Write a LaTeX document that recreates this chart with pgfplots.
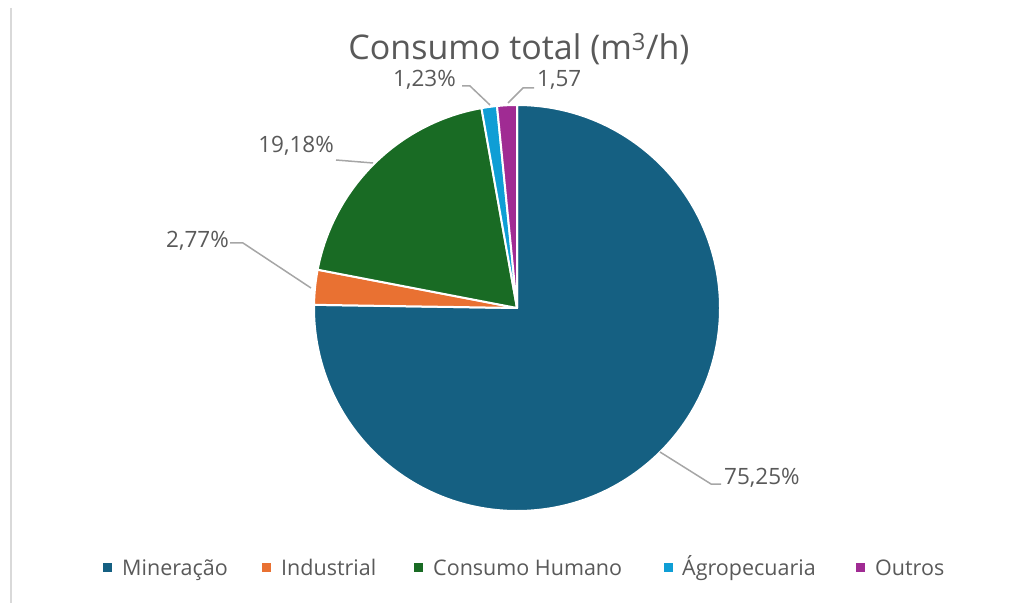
\documentclass[border=0pt]{standalone}
\usepackage{pgfplots}
\pgfplotsset{compat=1.18}
\usepackage{pgfplotstable}
\usepackage{fontspec}
\setmainfont{Open Sans}
\definecolor{cMin}{HTML}{156082}
\definecolor{cInd}{HTML}{E97132}
\definecolor{cHum}{HTML}{196B24}
\definecolor{cAgr}{HTML}{0F9ED5}
\definecolor{cOut}{HTML}{A02B93}
\definecolor{txt}{HTML}{595959}
\definecolor{lead}{HTML}{A6A6A6}
\definecolor{frame}{HTML}{D9D9D9}

\pgfplotstableread{
value color
75.25 cMin
2.77 cInd
19.18 cHum
1.23 cAgr
1.57 cOut
}\piedata

\begin{document}
\begin{tikzpicture}
\begin{axis}[width=1015bp,height=603bp,scale only axis,hide axis,
  xmin=0,xmax=1015,ymin=0,ymax=603,clip=false]
\path (axis cs:0,0) rectangle (axis cs:1015,603);
\pgfplotsextra{
  \xdef\cum{90}
  \pgfplotstableforeachcolumnelement{value}\of\piedata\as\v{%
    \pgfplotstablegetelem{\pgfplotstablerow}{color}\of\piedata
    \let\col\pgfplotsretval
    \pgfmathsetmacro\endang{\cum-3.6*\v}
    \fill[\col, draw=white, line width=2bp, line join=round] (axis cs:517,295) -- ++(\cum:203bp)
      arc[start angle=\cum, end angle=\endang, radius=203bp] -- cycle;
    \xdef\cum{\endang}%
  }
}
% frame line
\draw[frame, line width=2bp] (axis cs:11,595) -- (axis cs:11,0);
% title
\node[txt, font=\fontsize{34bp}{40bp}\selectfont, anchor=base, inner sep=0pt] at (axis cs:519,543) {Consumo total (m\textsuperscript{3}/h)};
% leader lines
\draw[lead, line width=1.5bp] (axis cs:660,151) -- (axis cs:711,119) -- (axis cs:721,119);
\draw[lead, line width=1.5bp] (axis cs:230,360) -- (axis cs:243,360) -- (axis cs:311,315);
\draw[lead, line width=1.5bp] (axis cs:336,443) -- (axis cs:373,440);
\draw[lead, line width=1.5bp] (axis cs:462,517) -- (axis cs:470,517) -- (axis cs:490,498);
\draw[lead, line width=1.5bp] (axis cs:534,515) -- (axis cs:523,515) -- (axis cs:508,500);
% data labels
\begin{scope}[every node/.style={txt, font=\fontsize{22.5bp}{26bp}\selectfont, inner sep=0pt}]
\node[anchor=base west] at (axis cs:724,119) {75,25\%};
\node[anchor=base east] at (axis cs:229,355) {2,77\%};
\node[anchor=base east] at (axis cs:334,450) {19,18\%};
\node[anchor=base east] at (axis cs:456,516) {1,23\%};
\node[anchor=base west] at (axis cs:537,516) {1,57};
\end{scope}
% legend
\begin{scope}[every node/.style={txt, font=\fontsize{21.5bp}{25bp}\selectfont, inner sep=0pt, anchor=base west}]
\fill[cMin] (axis cs:103,31) rectangle (axis cs:112,40);
\node at (axis cs:122,28) {Mineração};
\fill[cInd] (axis cs:262,31) rectangle (axis cs:271,40);
\node at (axis cs:281,28) {Industrial};
\fill[cHum] (axis cs:414,31) rectangle (axis cs:423,40);
\node at (axis cs:433,28) {Consumo Humano};
\fill[cAgr] (axis cs:664,31) rectangle (axis cs:673,40);
\node at (axis cs:682,28) {Ágropecuaria};
\fill[cOut] (axis cs:856,31) rectangle (axis cs:865,40);
\node at (axis cs:875,28) {Outros};
\end{scope}
\end{axis}
\end{tikzpicture}
\end{document}
